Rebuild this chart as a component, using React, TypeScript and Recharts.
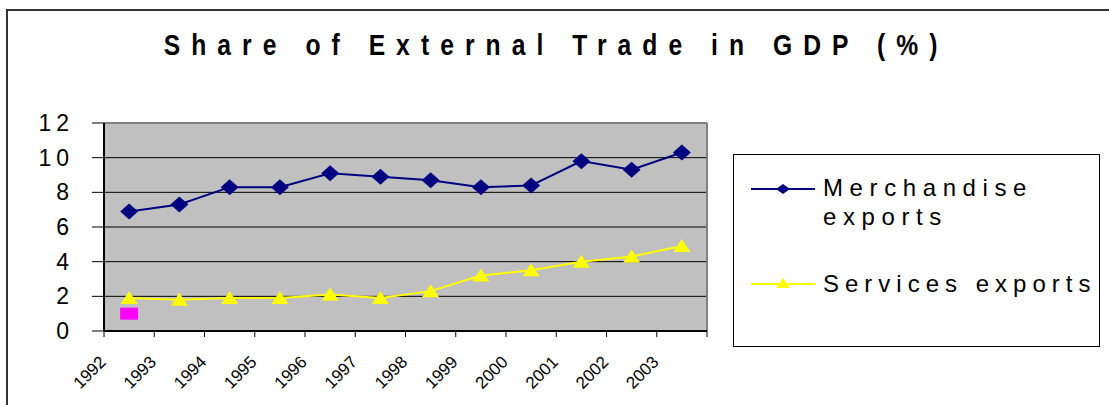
import React from 'react';
import {
  LineChart,
  Line,
  XAxis,
  YAxis,
  CartesianGrid,
  ReferenceLine,
} from 'recharts';

const years = ['1992', '1993', '1994', '1995', '1996', '1997', '1998', '1999', '2000', '2001', '2002', '2003'];
const merchandise = [6.9, 7.3, 8.3, 8.3, 9.1, 8.9, 8.7, 8.3, 8.4, 9.8, 9.3, 10.3];
const services = [1.9, 1.8, 1.9, 1.9, 2.1, 1.9, 2.3, 3.2, 3.5, 4.0, 4.3, 4.9];
// stray magenta marker left in the original sheet
const strayMarker = [1.0];
const yTicks = [0, 2, 4, 6, 8, 10, 12];

const FONT = '"Liberation Sans", Arial, sans-serif';
const NAVY = '#000080';
const YELLOW = '#FFFF00';

const data = years.map((year, i) => ({
  pos: i + 0.5,
  year,
  merchandise: merchandise[i],
  services: services[i],
  stray: strayMarker[i] ?? null,
}));

const xTicks = years.map((_, i) => i).concat(years.length);

const Diamond = (props: any) => {
  const { cx, cy, index } = props;
  if (cx == null || cy == null) return null;
  return (
    <path
      key={`dm-${index}`}
      d={`M${cx},${cy - 8} L${cx + 9},${cy} L${cx},${cy + 8} L${cx - 9},${cy} Z`}
      fill={NAVY}
    />
  );
};

const Triangle = (props: any) => {
  const { cx, cy, index } = props;
  if (cx == null || cy == null) return null;
  return (
    <path
      key={`tr-${index}`}
      d={`M${cx},${cy - 7} L${cx + 8.5},${cy + 6} L${cx - 8.5},${cy + 6} Z`}
      fill={YELLOW}
    />
  );
};

const Square = (props: any) => {
  const { cx, cy, index, value } = props;
  if (cx == null || cy == null || value == null) return null;
  return <rect key={`sq-${index}`} x={cx - 9} y={cy - 6} width={18} height={12} fill="#FF00FF" />;
};

const YTick = ({ x, y, payload }: any) => (
  <text x={x} y={y} dy={8} textAnchor="end" fontFamily={FONT} fontSize={23} letterSpacing={5} fill="#000">
    {payload.value}
  </text>
);

const XTick = ({ x, y, payload }: any) => {
  const label = years[payload.value] ?? '';
  const tx = x + 3;
  const ty = y + 24;
  return (
    <text
      x={tx}
      y={ty}
      transform={`rotate(-45, ${tx}, ${ty})`}
      textAnchor="end"
      fontFamily={FONT}
      fontSize={17}
      fill="#000"
    >
      {label}
    </text>
  );
};

const LegendBox = () => (
  <svg width={367} height={193} style={{ position: 'absolute', left: 733, top: 154 }}>
    <rect x={0.5} y={0.5} width={366} height={192} fill="#fff" stroke="#000" />
    <line x1={18} y1={35} x2={82} y2={35} stroke={NAVY} strokeWidth={2} />
    <path d="M50,30 L57,35 L50,40 L43,35 Z" fill={NAVY} />
    <text x={90} y={42} fontFamily={FONT} fontSize={24} letterSpacing={6.6} fill="#000">Merchandise</text>
    <text x={90} y={71} fontFamily={FONT} fontSize={24} letterSpacing={6.6} fill="#000">exports</text>
    <line x1={18} y1={130} x2={82} y2={130} stroke={YELLOW} strokeWidth={2} />
    <path d="M50,124 L57,134 L43,134 Z" fill={YELLOW} />
    <text x={90} y={138} fontFamily={FONT} fontSize={24} letterSpacing={6} fill="#000">Services exports</text>
  </svg>
);

export default function App() {
  return (
    <div style={{ position: 'absolute', left: 0, top: 0, width: 1109, height: 405, overflow: 'hidden', background: '#fff' }}>
      <LineChart
        width={1109}
        height={405}
        data={data}
        margin={{ top: 123, right: 402, bottom: 0, left: 0 }}
      >
        <CartesianGrid vertical={false} stroke="#000" fill="#C0C0C0" />
        <XAxis
          dataKey="pos"
          type="number"
          domain={[0, years.length]}
          ticks={xTicks}
          interval={0}
          height={74}
          tickSize={6}
          axisLine={{ stroke: '#000', strokeWidth: 2 }}
          tickLine={{ stroke: '#000' }}
          tick={<XTick />}
        />
        <YAxis
          domain={[0, 12]}
          ticks={yTicks}
          interval={0}
          width={104}
          tickSize={12}
          tickMargin={18}
          axisLine={{ stroke: '#000', strokeWidth: 2 }}
          tickLine={{ stroke: '#000' }}
          tick={<YTick />}
        />
        <ReferenceLine y={12} stroke="#808080" strokeWidth={2} />
        <ReferenceLine x={years.length} stroke="#808080" strokeWidth={2} />
        <Line
          dataKey="merchandise"
          stroke={NAVY}
          strokeWidth={2}
          dot={Diamond}
          activeDot={false}
          isAnimationActive={false}
        />
        <Line
          dataKey="services"
          stroke={YELLOW}
          strokeWidth={2}
          dot={Triangle}
          activeDot={false}
          isAnimationActive={false}
        />
        <Line
          dataKey="stray"
          stroke="none"
          dot={Square}
          activeDot={false}
          legendType="none"
          isAnimationActive={false}
        />
      </LineChart>
      <LegendBox />
      <svg
        width={1109}
        height={405}
        style={{ position: 'absolute', left: 0, top: 0, pointerEvents: 'none' }}
      >
        <path d="M7,405 L7,10 L1109,10" fill="none" stroke="#333" strokeWidth={2} />
        <g transform="translate(551 0) scale(0.85 1)">
          <text
            x={6}
            y={55}
            textAnchor="middle"
            fontFamily={FONT}
            fontWeight="bold"
            fontSize={29}
            letterSpacing={13}
            fill="#000"
          >
            Share of External Trade in GDP (%)
          </text>
        </g>
      </svg>
    </div>
  );
}
